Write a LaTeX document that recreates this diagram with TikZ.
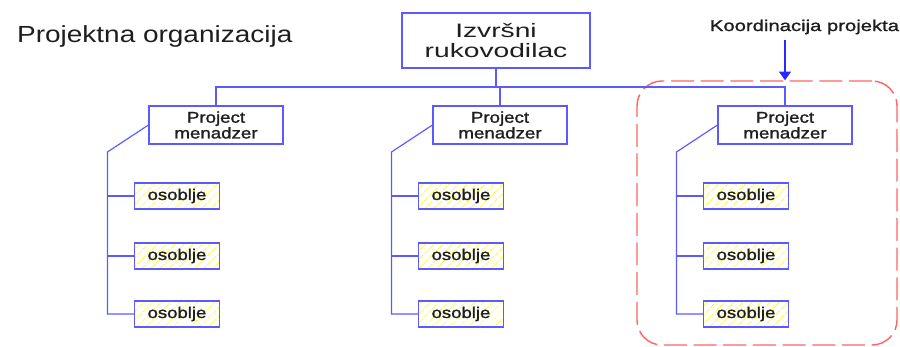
\documentclass[tikz,border=0pt]{standalone}
\usepackage{fontspec}
\setmainfont{Liberation Sans}[FakeStretch=1.2]
\newfontfamily\izfont{Liberation Sans}[FakeStretch=1.45]
\newfontfamily\polufont{Liberation Sans}[FakeStretch=1.2,FakeBold=1.3]
\newfontfamily\koordfont{Liberation Sans}[FakeStretch=1.3,FakeBold=1.3]
\usepackage{tikz}
\usetikzlibrary{arrows.meta}
\usetikzlibrary{patterns.meta}
\definecolor{linija}{RGB}{90,90,255}
\definecolor{strela}{RGB}{40,40,255}
\definecolor{crvena}{RGB}{255,100,100}
\definecolor{zuta}{RGB}{255,255,80}
\definecolor{tekst}{RGB}{30,30,30}

\begin{document}
\begin{tikzpicture}[x=0.03cm,y=-0.03cm,
	veza/.style={linija,line width=1pt},
	sef/.style={draw=linija,line width=0.9pt,minimum width=5.64cm,minimum height=1.65cm,inner sep=0pt,align=center,text=tekst,font=\izfont\fontsize{16.6}{17}\selectfont},
	menadzer/.style={draw=linija,line width=0.9pt,minimum width=4.02cm,minimum height=1.14cm,inner sep=0pt,align=center,text=tekst,font=\polufont\fontsize{13.3}{11}\selectfont},
	osoblje/.style={draw=linija,line width=0.9pt,pattern={Lines[angle=45,distance=5.4pt,line width=1pt]},pattern color=zuta,minimum width=2.55cm,minimum height=0.78cm,inner sep=0pt,text=tekst,font=\polufont\fontsize{13.2}{12}\selectfont},
	grupa/.style={draw=crvena,line width=1.2pt,dash pattern=on 0.69cm off 0.2cm,rounded corners=0.75cm,minimum width=7.8cm,minimum height=7.92cm}]
\useasboundingbox (0,0) rectangle (900,347);
\node[anchor=base west,text=tekst,font=\fontsize{19.9}{20}\selectfont] (naslov) at (13,43) {Projektna organizacija};
\node[grupa] (grp) at (767,213) {};
\node[text=tekst,font=\koordfont\fontsize{13.3}{13}\selectfont] (koord) at (804.5,27) {Koordinacija projekta};
\coordinate (strelica) at (785,40);
\draw[strela,line width=1pt,-{Triangle[width=0.36cm,length=0.26cm]}] (strelica) -- (strelica |- grp.north);
\node[sef] (top) at (496,40.5) {Izvršni\\rukovodilac};
\node[menadzer] (pma) at (216,125) {Project\\menadzer};
\node[menadzer] (pmb) at (500,125) {Project\\menadzer};
\node[menadzer] (pmc) at (785,125) {Project\\menadzer};
\coordinate (bus) at (496,87);
\draw[veza] (top.south) -- (top.south |- bus);
\draw[veza] (pma.north) -- (pma.north |- bus) -- (pmc.north |- bus) -- (pmc.north);
\draw[veza] (pmb.north) -- (pmb.north |- bus);
\foreach \c/\x in {a/216,b/500,c/785} {
	\foreach \r/\y in {1/196,2/256,3/314}
		\node[osoblje] (o\c\r) at (\x-39,\y) {osoblje};
	\coordinate (k\c) at ([xshift=-1.23cm,yshift=-0.81cm]pm\c.west);
	\draw[veza] (pm\c.west) -- (k\c) |- (o\c3.west);
	\draw[veza] (k\c |- o\c1.west) -- (o\c1.west);
	\draw[veza] (k\c |- o\c2.west) -- (o\c2.west);
}
\end{tikzpicture}
\end{document}
